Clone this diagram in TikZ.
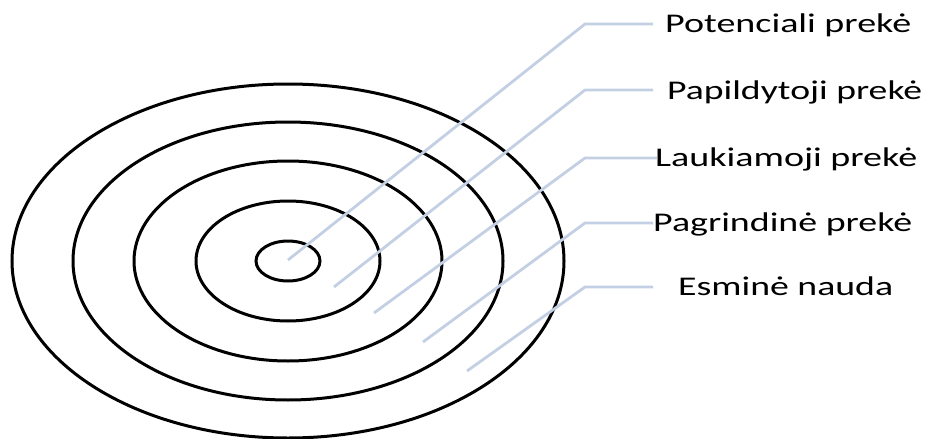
\documentclass[tikz,border=0pt]{standalone}
\usepackage{fontspec}
\setmainfont{Carlito}
\usepackage{graphicx}
\definecolor{leader}{HTML}{C3CFE2}
\begin{document}
\begin{tikzpicture}[x=1pt,y=-1pt,
  ring/.style={draw=black,line width=3pt},
  leaderline/.style={draw=leader,line width=2.8pt},
  lbl/.style={anchor=base west,inner sep=0pt,font=\fontsize{27}{30}\selectfont}]
\useasboundingbox (0,0) rectangle (927,439);
% rings
\draw[ring] (288,261) ellipse [x radius=276,y radius=177];
\draw[ring] (288,261) ellipse [x radius=215,y radius=139];
\draw[ring] (288,261) ellipse [x radius=154,y radius=100];
\draw[ring] (288,261) ellipse [x radius=92,y radius=60];
\draw[ring] (288,261) ellipse [x radius=32,y radius=20];
% labels
\node[lbl] (t1) at (665,32) {\resizebox{246pt}{\height}{Potenciali prekė}};
\node[lbl] (t2) at (667,99) {\resizebox{255pt}{\height}{Papildytoji prekė}};
\node[lbl] (t3) at (655,166.5) {\resizebox{262pt}{\height}{Laukiamoji prekė}};
\node[lbl] (t4) at (653,231.5) {\resizebox{259pt}{\height}{Pagrindinė prekė}};
\node[lbl] (t5) at (678,295) {\resizebox{215pt}{\height}{Esminė nauda}};
% leader coordinates
\coordinate (s1) at (288,260); \coordinate (e1) at (585,24);  \coordinate (f1) at (653,24);
\coordinate (s2) at (334,287); \coordinate (e2) at (585,90);  \coordinate (f2) at (653,90);
\coordinate (s3) at (374,313); \coordinate (e3) at (585,158); \coordinate (f3) at (657,158);
\coordinate (s4) at (423,342); \coordinate (e4) at (585,223); \coordinate (f4) at (653,223);
\coordinate (s5) at (467,371); \coordinate (e5) at (585,287); \coordinate (f5) at (653,287);
\foreach \i in {1,...,5} {\draw[leaderline] (s\i) -- (e\i) -- (f\i);}
\end{tikzpicture}
\end{document}
